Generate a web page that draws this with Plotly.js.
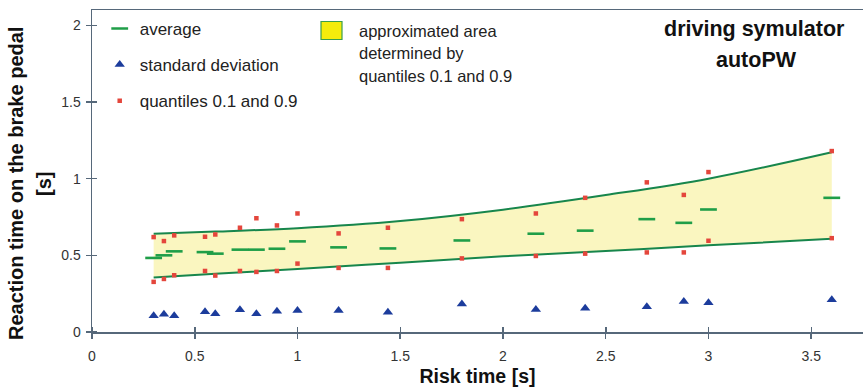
<!DOCTYPE html>
<html>
<head>
<meta charset="utf-8">
<script src="https://cdn.plot.ly/plotly-3.0.1.min.js"></script>
<style>
  html, body { margin: 0; padding: 0; background: #ffffff; }
  #chart { width: 863px; height: 387px; }
</style>
</head>
<body>
<div id="chart"></div>
<script>
// Risk time values [s]
const riskTime = [0.3, 0.35, 0.4, 0.55, 0.6, 0.72, 0.8, 0.9, 1.0, 1.2, 1.44, 1.8, 2.16, 2.4, 2.7, 2.88, 3.0, 3.6];
// Average reaction time [s]
const averageRT = [0.483, 0.5, 0.526, 0.521, 0.511, 0.537, 0.537, 0.543, 0.591, 0.552, 0.545, 0.597, 0.641, 0.661, 0.736, 0.712, 0.799, 0.875];
// Standard deviation [s]
const stdDev = [0.106, 0.115, 0.106, 0.132, 0.119, 0.145, 0.119, 0.136, 0.141, 0.141, 0.128, 0.182, 0.147, 0.155, 0.164, 0.199, 0.19, 0.21];
// Quantile 0.9 [s]
const q90 = [0.619, 0.593, 0.63, 0.621, 0.636, 0.68, 0.742, 0.695, 0.773, 0.643, 0.68, 0.736, 0.773, 0.875, 0.976, 0.894, 1.043, 1.18];
// Quantile 0.1 [s]
const q10 = [0.327, 0.346, 0.37, 0.398, 0.368, 0.398, 0.392, 0.398, 0.446, 0.418, 0.418, 0.48, 0.496, 0.511, 0.519, 0.519, 0.595, 0.612];
// Approximated band boundaries
const bandX = [0.3, 0.6, 1.0, 1.5, 2.0, 2.5, 3.0, 3.6];
const bandUpper = [0.641, 0.655, 0.677, 0.724, 0.798, 0.893, 1.0, 1.172];
const bandLower = [0.355, 0.38, 0.411, 0.452, 0.494, 0.528, 0.565, 0.608];

const xTicks = [0, 0.5, 1, 1.5, 2, 2.5, 3, 3.5];
const yTicks = [0, 0.5, 1, 1.5, 2];

const bandLine = '#17864c';
const traces = [
  { x: bandX, y: bandLower, mode: 'lines', line: { width: 0, shape: 'spline' }, showlegend: false, hoverinfo: 'skip' },
  { x: bandX, y: bandUpper, mode: 'lines', line: { width: 0, shape: 'spline' }, fill: 'tonexty', fillcolor: '#faf6c0', showlegend: false, hoverinfo: 'skip' },
  { x: bandX, y: bandLower, mode: 'lines', line: { width: 2, color: bandLine, shape: 'spline' }, showlegend: false },
  { x: bandX, y: bandUpper, mode: 'lines', line: { width: 2, color: bandLine, shape: 'spline' }, showlegend: false },
  { x: riskTime, y: averageRT, mode: 'markers', name: 'average', legendgroup: 'a',
    marker: { symbol: 'line-ew', size: 12, line: { width: 2.6, color: '#1f9e48' } } },
  { x: riskTime, y: stdDev, mode: 'markers', name: 'standard deviation', legendgroup: 'b',
    marker: { symbol: 'triangle-up', size: 9, color: '#1c3c9c' } },
  { x: riskTime.concat(riskTime), y: q90.concat(q10), mode: 'markers', name: 'quantiles 0.1 and 0.9', legendgroup: 'c',
    marker: { symbol: 'square', size: 4.5, color: '#e4463c' } }
];

const axisColor = '#56687a';
const layout = {
  width: 863, height: 387,
  margin: { l: 92, r: 0, t: 10, b: 55 },
  paper_bgcolor: '#ffffff', plot_bgcolor: '#ffffff',
  font: { family: 'Liberation Sans, Arial, sans-serif', color: '#222222' },
  showlegend: true,
  legend: {
    x: 0.01, y: 0.997, xanchor: 'left', yanchor: 'top',
    bgcolor: 'rgba(0,0,0,0)', borderwidth: 0,
    traceorder: 'grouped', tracegroupgap: 11,
    font: { size: 17, color: '#222222' }
  },
  xaxis: {
    range: [0, 3.752], tickvals: xTicks, ticktext: xTicks.map(String),
    showline: true, linecolor: axisColor, linewidth: 1.5, mirror: true,
    ticks: 'outside', ticklen: 5, tickcolor: axisColor, tickwidth: 1.5,
    minor: { tickmode: 'array', tickvals: xTicks.map(v => v + 0.0005), ticks: 'inside', ticklen: 5, tickcolor: axisColor, tickwidth: 1.5, showgrid: false },
    showgrid: false, zeroline: false,
    tickfont: { size: 14, color: '#333333' }, ticklabelstandoff: 6,
    title: { text: '<b>Risk time [s]</b>', font: { size: 19.5, color: '#111111' }, standoff: 6 }
  },
  yaxis: {
    range: [0, 2.1], tickvals: yTicks, ticktext: yTicks.map(String),
    showline: true, linecolor: axisColor, linewidth: 1.5,
    ticks: 'outside', ticklen: 5, tickcolor: axisColor, tickwidth: 1.5,
    minor: { tickmode: 'array', tickvals: yTicks.map(v => v + 0.0005), ticks: 'inside', ticklen: 5, tickcolor: axisColor, tickwidth: 1.5, showgrid: false },
    showgrid: false, zeroline: false,
    tickfont: { size: 14, color: '#333333' }, ticklabelstandoff: 2
  },
  shapes: [
    { type: 'rect', xref: 'paper', yref: 'paper',
      x0: (321 - 92) / 771, x1: (342 - 92) / 771, y0: (332 - 39.5) / 322, y1: (332 - 21.5) / 322,
      fillcolor: '#f4ec0c', line: { color: '#3a9e4c', width: 1.2 } }
  ],
  annotations: [
    { xref: 'paper', yref: 'paper', x: (357 - 92) / 771, y: (332 - 30.7) / 322, xanchor: 'left', yanchor: 'middle',
      text: 'approximated area', showarrow: false, font: { size: 16.5, color: '#222222' } },
    { xref: 'paper', yref: 'paper', x: (357 - 92) / 771, y: (332 - 53.3) / 322, xanchor: 'left', yanchor: 'middle',
      text: 'determined by', showarrow: false, font: { size: 16.5, color: '#222222' } },
    { xref: 'paper', yref: 'paper', x: (357 - 92) / 771, y: (332 - 75.7) / 322, xanchor: 'left', yanchor: 'middle',
      text: 'quantiles 0.1 and 0.9', showarrow: false, font: { size: 16.5, color: '#222222' } },
    { xref: 'paper', yref: 'paper', x: (754 - 92) / 771, y: (332 - 29) / 322, xanchor: 'center', yanchor: 'middle',
      text: '<b>driving symulator</b>', showarrow: false, font: { size: 21.5, color: '#111111' } },
    { xref: 'paper', yref: 'paper', x: (756 - 92) / 771, y: (332 - 60) / 322, xanchor: 'center', yanchor: 'middle',
      text: '<b>autoPW</b>', showarrow: false, font: { size: 21.5, color: '#111111' } },
    { xref: 'paper', yref: 'paper', x: (16 - 92) / 771, y: (332 - 184) / 322, xanchor: 'center', yanchor: 'middle',
      text: '<b>Reaction time on the brake pedal</b>', textangle: -90, showarrow: false, font: { size: 20, color: '#111111' } },
    { xref: 'paper', yref: 'paper', x: (44 - 92) / 771, y: (332 - 184) / 322, xanchor: 'center', yanchor: 'middle',
      text: '<b>[s]</b>', textangle: -90, showarrow: false, font: { size: 20, color: '#111111' } }
  ]
};

Plotly.newPlot('chart', traces, layout, { displayModeBar: false, staticPlot: true });
</script>
</body>
</html>
